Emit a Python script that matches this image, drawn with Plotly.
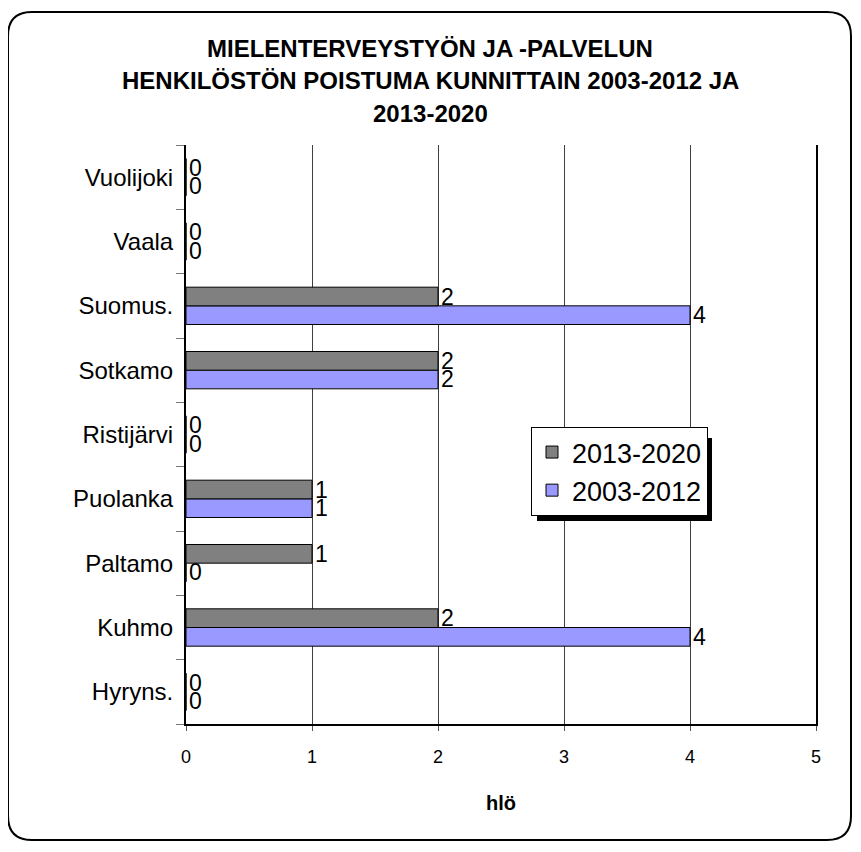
import plotly.graph_objects as go

# municipalities, bottom to top
kunnat = ["Hyryns.", "Kuhmo", "Paltamo", "Puolanka", "Ristijärvi",
          "Sotkamo", "Suomus.", "Vaala", "Vuolijoki"]
poistuma_2013_2020 = [0, 2, 1, 1, 0, 2, 2, 0, 0]
poistuma_2003_2012 = [0, 4, 0, 1, 0, 2, 4, 0, 0]
x_ticks = [0, 1, 2, 3, 4, 5]

OFF = 8  # page body margin
W, H = 861 - OFF, 852 - OFF
L, R, T, B = 186, 816, 145, 724  # plot area in screen pixels


def px(x):
    return (x - L) / (R - L)


def py(y):
    return (B - y) / (B - T)


fig = go.Figure()

# lower bar first so the grey one sits above it in each group
fig.add_trace(go.Bar(
    y=kunnat, x=poistuma_2003_2012, orientation="h", name="2003-2012",
    marker=dict(color="#9999FF", line=dict(color="black", width=1)),
    text=poistuma_2003_2012, textposition="outside", cliponaxis=False,
    constraintext="none", textfont=dict(size=23, color="black"),
))
fig.add_trace(go.Bar(
    y=kunnat, x=poistuma_2013_2020, orientation="h", name="2013-2020",
    marker=dict(color="#808080", line=dict(color="black", width=1)),
    text=poistuma_2013_2020, textposition="outside", cliponaxis=False,
    constraintext="none", textfont=dict(size=23, color="black"),
))

# rounded outer frame
x0, x1, y0, y1, r = 8, 851, 12, 840, 24
path = (f"M {px(x0 + r)},{py(y0)} L {px(x1 - r)},{py(y0)} "
        f"Q {px(x1)},{py(y0)} {px(x1)},{py(y0 + r)} "
        f"L {px(x1)},{py(y1 - r)} Q {px(x1)},{py(y1)} {px(x1 - r)},{py(y1)} "
        f"L {px(x0 + r)},{py(y1)} Q {px(x0)},{py(y1)} {px(x0)},{py(y1 - r)} "
        f"L {px(x0)},{py(y0 + r)} Q {px(x0)},{py(y0)} {px(x0 + r)},{py(y0)} Z")
fig.add_shape(type="path", path=path, xref="paper", yref="paper",
              line=dict(color="black", width=2))

# legend shadow
fig.add_shape(type="rect", xref="paper", yref="paper",
              x0=px(537), x1=px(712), y0=py(438), y1=py(521),
              fillcolor="black", line=dict(width=0), layer="above")

# title lines
title_lines = ["MIELENTERVEYSTYÖN JA -PALVELUN",
               "HENKILÖSTÖN POISTUMA KUNNITTAIN 2003-2012 JA",
               "2013-2020"]
for i, line in enumerate(title_lines):
    fig.add_annotation(text=f"<b>{line}</b>", xref="paper", yref="paper",
                       x=px(430), y=py(48 + i * 32.5), showarrow=False,
                       xanchor="center", yanchor="middle",
                       font=dict(family="Liberation Sans, Arial", size=24, color="black"))

fig.update_layout(
    width=W, height=H,
    margin=dict(l=L - OFF, r=W - (R - OFF), t=T - OFF, b=H - (B - OFF)),
    barmode="group", bargap=0.42, bargroupgap=0,
    plot_bgcolor="white", paper_bgcolor="white",
    font=dict(family="Liberation Sans, Arial", color="black"),
    xaxis=dict(range=[0, 5], tickvals=x_ticks, showgrid=True,
               gridcolor="#404040", gridwidth=1, zeroline=False,
               showline=True, linecolor="black", linewidth=2,
               ticks="outside", ticklen=5, tickcolor="#555555",
               tickfont=dict(size=18), ticklabelstandoff=10,
               title=dict(text="<b>hlö</b>", font=dict(size=20), standoff=30)),
    yaxis=dict(showgrid=False, zeroline=False, showline=True,
               linecolor="black", linewidth=2, mirror=True,
               ticks="outside", tickson="boundaries", ticklen=8,
               tickcolor="#777777", tickfont=dict(size=24), ticklabelstandoff=6),
    legend=dict(x=px(531), y=py(427), xanchor="left", yanchor="top",
                traceorder="reversed", bgcolor="white",
                bordercolor="black", borderwidth=1,
                font=dict(size=27), itemwidth=30),
    showlegend=True,
)

fig.write_html("out.html")
